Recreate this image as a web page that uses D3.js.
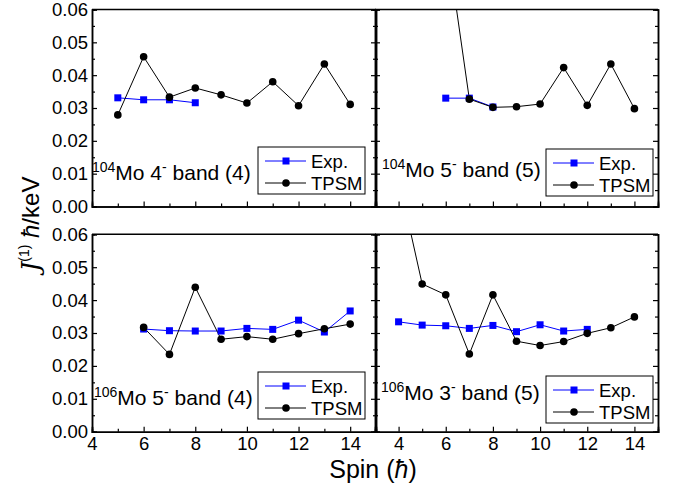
<!DOCTYPE html>
<html><head><meta charset="utf-8">
<script src="https://cdn.jsdelivr.net/npm/d3@7"></script>
<style>body{margin:0;background:#fff}svg{display:block}</style>
</head><body>
<svg id="c" width="686" height="491"></svg>
<script>
// ---- data ----
const yTicks = [0.00, 0.01, 0.02, 0.03, 0.04, 0.05, 0.06];
const xTicks = [4, 6, 8, 10, 12, 14];
const seriesNames = ["Exp.", "TPSM"];
const panelNuclei = ["104", "104", "106", "106"];
const panelBands = ["4", "5", "5", "3"];
const panelIndex = ["(4)", "(5)", "(4)", "(5)"];

// 104Mo 4- band (4)
const tlExpSpin = [5, 6, 7, 8];
const tlExp = [0.0331, 0.0325, 0.0325, 0.0316];
const tlThSpin = [5, 6, 7, 8, 9, 10, 11, 12, 13, 14];
const tlTh = [0.0279, 0.0456, 0.0333, 0.0361, 0.0340, 0.0315, 0.0380, 0.0307, 0.0434, 0.0311];
// 104Mo 5- band (5)
const trExpSpin = [6, 7, 8];
const trExp = [0.0330, 0.0330, 0.0303];
const trThSpin = [6, 7, 8, 9, 10, 11, 12, 13, 14];
const trTh = [0.083, 0.0327, 0.0302, 0.0304, 0.0312, 0.0423, 0.0308, 0.0434, 0.0298];
// 106Mo 5- band (4)
const blExpSpin = [6, 7, 8, 9, 10, 11, 12, 13, 14];
const blExp = [0.0312, 0.0307, 0.0306, 0.0306, 0.0314, 0.0311, 0.0339, 0.0303, 0.0367];
const blThSpin = [6, 7, 8, 9, 10, 11, 12, 13, 14];
const blTh = [0.0317, 0.0235, 0.0439, 0.0281, 0.0289, 0.0281, 0.0298, 0.0313, 0.0327];
// 106Mo 3- band (5)
const brExpSpin = [4, 5, 6, 7, 8, 9, 10, 11, 12];
const brExp = [0.0334, 0.0324, 0.0322, 0.0314, 0.0323, 0.0304, 0.0325, 0.0306, 0.0311];
const brThSpin = [4, 5, 6, 7, 8, 9, 10, 11, 12, 13, 14];
const brTh = [0.077, 0.0449, 0.0416, 0.0236, 0.0416, 0.0275, 0.0262, 0.0274, 0.0299, 0.0316, 0.0349];

// ---- layout ----
const FONT = "'Liberation Sans', Arial, sans-serif";
const svg = d3.select("#c");
const panels = [
  {x0: 92, x1: 376, y0: 9.5, y1: 206.5, dom: [4, 15], left: true, bottom: false,
   exp: [tlExpSpin, tlExp], th: [tlThSpin, tlTh], lab: [92, 180], leg: [258, 147]},
  {x0: 375, x1: 658, y0: 9.5, y1: 206.5, dom: [3, 15], left: false, bottom: false,
   exp: [trExpSpin, trExp], th: [trThSpin, trTh], lab: [382, 177], leg: [546, 149]},
  {x0: 92, x1: 376, y0: 234.3, y1: 431.7, dom: [4, 15], left: true, bottom: true,
   exp: [blExpSpin, blExp], th: [blThSpin, blTh], lab: [94, 405], leg: [258, 372]},
  {x0: 375, x1: 658, y0: 234.3, y1: 431.7, dom: [3, 15], left: false, bottom: true,
   exp: [brExpSpin, brExp], th: [brThSpin, brTh], lab: [381, 400], leg: [546, 376]}
];

panels.forEach((p, i) => {
  const x = d3.scaleLinear().domain(p.dom).range([p.x0, p.x1]);
  const y = d3.scaleLinear().domain([0, 0.06]).range([p.y1, p.y0]);
  const g = svg.append("g");
  const clipId = "clip" + i;
  svg.append("clipPath").attr("id", clipId).append("rect")
    .attr("x", p.x0).attr("y", p.y0).attr("width", p.x1 - p.x0).attr("height", p.y1 - p.y0);

  const minorY = d3.range(0, 0.0601, 0.005);
  const allX = d3.range(Math.ceil(p.dom[0]), p.dom[1] + 0.01, 1).filter(v => v > p.dom[0] && v < p.dom[1]);
  const majorX = allX.filter(v => v % 2 === 0);
  const minorX = allX.filter(v => v % 2 !== 0);
  const minorYv = minorY.filter(v => Math.round(v * 1000) % 10 !== 0);

  // left axis
  g.append("g").attr("transform", `translate(${p.x0},0)`)
    .call(d3.axisLeft(y).tickValues(yTicks).tickSize(-5).tickPadding(4)
      .tickFormat(p.left ? d3.format(".2f") : () => ""));
  g.append("g").attr("transform", `translate(${p.x0},0)`)
    .call(d3.axisLeft(y).tickValues(minorYv).tickSize(-3).tickFormat(() => ""));
  // right axis
  g.append("g").attr("transform", `translate(${p.x1},0)`)
    .call(d3.axisRight(y).tickValues(yTicks).tickSize(-5).tickFormat(() => ""));
  g.append("g").attr("transform", `translate(${p.x1},0)`)
    .call(d3.axisRight(y).tickValues(minorYv).tickSize(-3).tickFormat(() => ""));
  // bottom axis
  g.append("g").attr("transform", `translate(0,${p.y1})`)
    .call(d3.axisBottom(x).tickValues(p.bottom ? xTicks : majorX).tickSize(-5).tickPadding(5)
      .tickFormat(p.bottom ? d3.format("d") : () => ""));
  g.append("g").attr("transform", `translate(0,${p.y1})`)
    .call(d3.axisBottom(x).tickValues(minorX).tickSize(-3).tickFormat(() => ""));
  // top border
  g.append("line").attr("x1", p.x0).attr("x2", p.x1).attr("y1", p.y0).attr("y2", p.y0)
    .attr("stroke", "#000").attr("stroke-width", 1.5);

  g.selectAll(".domain").attr("stroke", "#000").attr("stroke-width", 1.5);
  g.selectAll(".tick line").attr("stroke", "#000").attr("stroke-width", 1.2);
  g.selectAll(".tick text").attr("font-family", FONT).attr("font-size", 18.5).attr("fill", "#000");

  // data
  const line = d3.line().x(d => x(d[0])).y(d => y(d[1]));
  const expPts = p.exp[0].map((s, k) => [s, p.exp[1][k]]);
  const thPts = p.th[0].map((s, k) => [s, p.th[1][k]]);
  const dg = g.append("g").attr("clip-path", `url(#${clipId})`);
  dg.append("path").attr("d", line(expPts)).attr("fill", "none").attr("stroke", "#0000ff").attr("stroke-width", 1);
  dg.append("path").attr("d", line(thPts)).attr("fill", "none").attr("stroke", "#000").attr("stroke-width", 1);
  dg.selectAll(".sq").data(expPts).join("rect")
    .attr("x", d => x(d[0]) - 3.5).attr("y", d => y(d[1]) - 3.5).attr("width", 7).attr("height", 7)
    .attr("fill", "#0000ff");
  dg.selectAll(".ci").data(thPts).join("circle")
    .attr("cx", d => x(d[0])).attr("cy", d => y(d[1])).attr("r", 3.8).attr("fill", "#000");

  // label
  const t = g.append("text").attr("x", p.lab[0]).attr("y", p.lab[1])
    .attr("font-family", FONT).attr("font-size", 21).attr("fill", "#000");
  t.append("tspan").attr("font-size", 14).attr("dy", -8).text(panelNuclei[i]);
  t.append("tspan").attr("dy", 8).text("Mo " + panelBands[i]);
  t.append("tspan").attr("font-size", 14).attr("dy", -8).text("-");
  t.append("tspan").attr("dy", 8).text(" band " + panelIndex[i]);

  // legend
  const [lx, ly] = p.leg;
  const lg = g.append("g");
  lg.append("rect").attr("x", lx).attr("y", ly).attr("width", 107).attr("height", 47)
    .attr("fill", "#fff").attr("stroke", "#000").attr("stroke-width", 1);
  [0, 1].forEach(k => {
    const cy = ly + 14 + k * 22;
    lg.append("line").attr("x1", lx + 7).attr("x2", lx + 48).attr("y1", cy).attr("y2", cy)
      .attr("stroke", k === 0 ? "#0000ff" : "#000").attr("stroke-width", 1);
    if (k === 0) lg.append("rect").attr("x", lx + 28 - 3.5).attr("y", cy - 3.5).attr("width", 7).attr("height", 7).attr("fill", "#0000ff");
    else lg.append("circle").attr("cx", lx + 28).attr("cy", cy).attr("r", 3.8).attr("fill", "#000");
    lg.append("text").attr("x", lx + 53).attr("y", cy + 6.5).attr("font-family", FONT)
      .attr("font-size", 18.5).attr("fill", "#000").text(seriesNames[k]);
  });
});

// axis titles
const xt = svg.append("text").attr("x", 373).attr("y", 478).attr("text-anchor", "middle")
  .attr("font-family", FONT).attr("font-size", 25).attr("fill", "#000");
xt.append("tspan").text("Spin (");
xt.append("tspan").attr("font-style", "italic").text("ħ");
xt.append("tspan").text(")");

const yt = svg.append("text").attr("transform", "translate(39,224) rotate(-90)").attr("text-anchor", "middle")
  .attr("font-family", FONT).attr("font-size", 24).attr("fill", "#000");
yt.append("tspan").attr("font-style", "italic").attr("font-family", "'DejaVu Serif', serif").text("J");
yt.append("tspan").attr("font-size", 14).attr("dy", -10).text("(1)");
yt.append("tspan").attr("dy", 10).text(" ");
yt.append("tspan").attr("font-style", "italic").text("ħ");
yt.append("tspan").text("/keV");
</script>
</body></html>
